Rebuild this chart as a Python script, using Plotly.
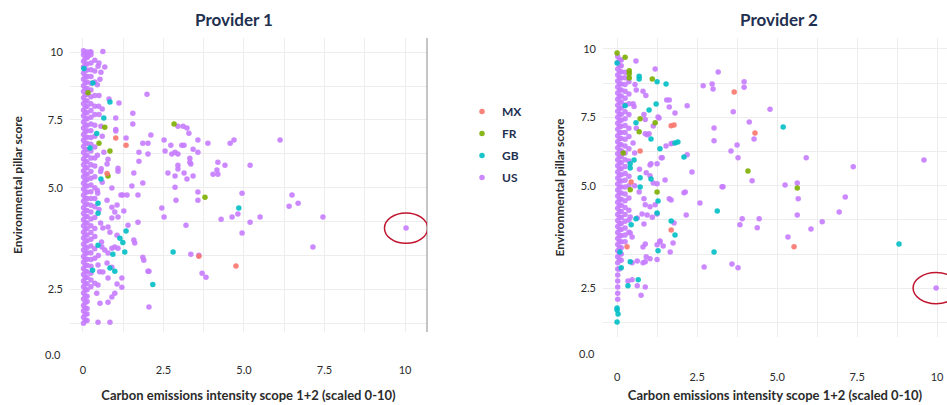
import plotly.graph_objects as go

# ---------------- DATA ----------------
countries = ["US", "GB", "FR", "MX"]          # drawing order (US underneath)
legend_rank = {"MX": 1, "FR": 2, "GB": 3, "US": 4}
colors = {"MX": "#F8766D", "FR": "#7CAE00", "GB": "#00BFC4", "US": "#C77CFF"}

x_tick_vals = [0, 1.25, 2.5, 3.75, 5, 6.25, 7.5, 8.75, 10]
x_tick_text = ["0", "", "2.5", "", "5.0", "", "7.5", "", "10"]
y_tick_vals = [0, 1.25, 2.5, 3.75, 5, 6.25, 7.5, 8.75, 10]
y_tick_text = ["", "2.5", "", "", "5.0", "", "7.5", "", "10"]
y_bottom_label = "0.0"

# ---- Provider 1 ----
p1_us_x = [0.22, 0.62, 0.16, 0.68, 0.56, 0.81, 1.12, 1.99, 1.55, 1.02, 1.55, 0.56, 1.02, 1.02, 2.11, 1.34, 1.86, 2.02, 2.52, 2.73,
           3.07, 3.14, 3.57, 3.88, 4.57, 4.69, 2.95, 3.11, 3.23, 3.29, 0.65, 1.74, 2.02, 2.55, 2.76, 2.86, 2.95, 3.42, 3.57, 0.78,
           1.74, 3.32, 3.32, 3.35, 4.19, 4.41, 0.75, 1.09, 1.09, 1.58, 1.86, 2.64, 2.86, 2.95, 2.95, 3.14, 3.23, 3.42, 4.04, 4.19,
           4.16, 1.52, 6.12, 5.19, 4.94, 6.49, 3.57, 1.18, 1.24, 1.37, 1.71, 0.90, 2.86, 3.57, 2.89, 0.75, 2.45, 2.52, 3.20, 4.29,
           4.63, 4.81, 5.19, 4.94, 5.50, 6.40, 6.68, 7.45, 7.14, 10.03, 3.35, 3.60, 3.70, 3.82, 2.05, 2.05, 1.86, 1.89, 1.71, 1.61,
           1.40, 1.27, 0.90, 1.06, 0.99, 0.90, 1.09, 0.62, 0.78, 0.84, 1.06, 0.99, 0.90, 1.09, 0.59, 0.68, 0.78, 1.58, 2.02, 0.47,
           0.75, 0.90, 0.62, 0.78, 1.06, 1.21, 1.21, 0.37, 0.47, 0.43, 0.99, 0.90, 0.78, 0.53, 0.47, 0.84, 0.50, 0.45, 0.50, 0.60,
           0.50, 0.60, 0.45, 0.55, 0.60, 0.45, 0.47, 0.52, 0.48, 0.58, 0.55, 0.50, 0.46, 0.57, 0.49, 0.53]
p1_us_y = [10.0, 10.02, 9.85, 9.45, 9.26, 8.27, 8.12, 8.45, 7.75, 7.57, 7.35, 7.27, 7.09, 7.15, 6.94, 6.83, 6.64, 6.64, 6.76, 6.57,
           6.57, 6.57, 6.76, 6.64, 6.64, 6.76, 7.27, 7.27, 7.20, 7.01, 6.31, 6.31, 6.24, 6.35, 6.24, 6.31, 6.24, 6.42, 6.31, 6.05,
           5.98, 6.09, 5.94, 5.87, 5.94, 5.83, 5.87, 5.72, 5.61, 5.54, 5.17, 5.54, 5.43, 5.69, 5.83, 5.54, 5.32, 5.43, 5.50, 5.50,
           5.65, 5.06, 6.76, 5.83, 4.80, 4.73, 4.84, 4.73, 4.73, 4.73, 4.73, 4.99, 5.02, 4.54, 4.54, 4.54, 4.25, 3.92, 3.62, 3.84,
           3.92, 4.03, 3.73, 3.33, 3.92, 4.32, 4.43, 3.92, 2.81, 3.51, 2.55, 2.51, 1.85, 1.70, 0.60, 1.92, 2.44, 2.33, 3.73, 2.96,
           3.62, 4.14, 4.28, 4.36, 4.10, 3.88, 3.92, 3.51, 3.55, 3.36, 3.25, 2.81, 2.77, 2.77, 2.81, 2.70, 2.59, 3.07, 1.92, 2.15,
           2.22, 2.07, 1.89, 1.67, 1.45, 1.67, 1.33, 1.48, 1.41, 1.11, 1.11, 0.97, 0.78, 0.74, 0.04, 0.04, 9.60, 8.80, 8.40, 7.90,
           7.70, 6.90, 6.20, 5.60, 5.20, 4.90, 9.48, 1.90, 2.50, 3.00, 3.70, 4.20, 4.80, 5.70, 8.00, 9.00]

# dense band near zero (US), read column by column
p1_band_x_a = 0.02
p1_band_y_a = [0.0, 0.22, 0.45, 0.66, 0.9, 1.12, 1.35, 1.56, 1.8, 2.02, 2.25, 2.46, 2.7, 2.92, 3.15, 3.36, 3.6, 3.82, 4.05,
               4.26, 4.5, 4.72, 4.95, 5.16, 5.4, 5.62, 5.85, 6.06, 6.3, 6.52, 6.75, 6.96, 7.2, 7.42, 7.65, 7.86, 8.1, 8.32,
               8.55, 8.76, 9.0, 9.22, 9.45, 9.66, 9.9, 10.05]
p1_band_x_e = 0.075
p1_band_y_e = [0.11, 0.33, 0.56, 0.77, 1.01, 1.23, 1.46, 1.67, 1.91, 2.13, 2.36, 2.57, 2.81, 3.03, 3.26, 3.47, 3.71, 3.93,
               4.16, 4.37, 4.61, 4.83, 5.06, 5.27, 5.51, 5.73, 5.96, 6.17, 6.41, 6.63, 6.86, 7.07, 7.31, 7.53, 7.76, 7.97,
               8.21, 8.43, 8.66, 8.87, 9.11, 9.33, 9.56, 9.77, 9.98]
p1_band_x_b = 0.13
p1_band_y_b = [0.1, 0.34, 0.55, 0.8, 1.0, 1.24, 1.46, 1.7, 1.9, 2.14, 2.36, 2.6, 2.8, 3.04, 3.26, 3.5, 3.7, 3.94, 4.16, 4.4,
               4.6, 4.84, 5.06, 5.3, 5.5, 5.74, 5.96, 6.2, 6.4, 6.64, 6.86, 7.1, 7.3, 7.54, 7.76, 8.0, 8.2, 8.44, 8.66, 8.9,
               9.1, 9.34, 9.56, 9.8, 10.0]
p1_band_x_c = 0.25
p1_band_y_c = [1.35, 1.6, 1.85, 2.1, 2.35, 2.6, 2.85, 3.1, 3.35, 3.6, 3.85, 4.1, 4.35, 4.6, 4.85, 5.1, 5.35, 5.6, 5.85, 6.1,
               6.35, 6.6, 6.85, 7.1, 7.35, 7.6, 7.85, 8.1, 8.35, 8.6, 8.85, 9.1, 9.35, 9.6, 9.9, 10.0]
p1_band_x_d = 0.37
p1_band_y_d = [2.4, 2.75, 3.2, 3.5, 3.9, 4.3, 4.6, 5.0, 5.4, 5.8, 6.1, 6.5, 6.9, 7.3, 7.7, 8.0, 8.4, 8.9, 9.3, 9.7]

p1_gb_x = [0.31, 0.84, 0.65, 0.43, 0.56, 0.47, 0.47, 1.15, 1.24, 1.30, 1.34, 0.47, 0.93, 0.84, 0.99, 0.30, 2.80, 2.17, 4.84, 0.03, 0.22]
p1_gb_y = [8.86, 8.16, 7.57, 7.00, 5.32, 4.43, 4.06, 3.14, 2.98, 2.63, 3.40, 2.88, 2.55, 2.04, 1.92, 1.96, 2.63, 1.43, 4.25, 9.40, 6.46]
p1_fr_x = [0.68, 0.50, 0.84, 0.78, 2.83, 3.79, 0.16]
p1_fr_y = [7.23, 6.64, 6.35, 5.43, 7.35, 4.65, 8.50]
p1_mx_x = [1.02, 1.34, 0.75, 3.60, 4.75]
p1_mx_y = [6.83, 6.57, 5.52, 2.47, 2.11]

# ---- Provider 2 ----
p2_us_x = [0.59, 1.19, 3.16, 2.69, 2.97, 3.00, 3.97, 3.97, 4.78, 2.19, 1.55, 1.63, 1.63, 1.81, 3.63, 4.13, 3.03, 4.28, 3.03, 3.75,
           3.56, 3.78, 4.22, 3.28, 2.34, 1.69, 1.53, 1.38, 2.19, 1.31, 0.84, 0.88, 0.88, 1.00, 0.50, 1.06, 1.25, 0.91, 1.03, 1.50,
           1.25, 1.13, 0.69, 0.84, 1.63, 2.09, 1.28, 1.13, 0.94, 1.72, 1.03, 1.41, 0.60, 0.81, 0.90, 0.50, 0.56, 0.53, 0.60, 0.55,
           0.70, 0.55, 0.88, 1.03, 1.19, 2.13, 3.31, 1.69, 2.59, 2.16, 0.41, 0.63, 0.78, 0.94, 0.84, 1.10, 1.25, 1.78, 0.41, 0.47,
           0.81, 0.88, 1.25, 1.34, 1.44, 1.66, 1.75, 1.34, 0.47, 0.63, 0.81, 0.88, 0.91, 1.03, 1.25, 0.34, 0.47, 0.63, 0.75, 0.88,
           2.72, 3.59, 3.78, 3.91, 3.84, 4.44, 4.38, 5.91, 7.38, 9.59, 5.25, 5.63, 5.66, 7.13, 6.94, 5.63, 6.41, 6.06, 5.34, 9.97]
p2_us_y = [9.56, 9.27, 9.16, 8.65, 8.72, 8.54, 8.80, 8.60, 7.80, 7.92, 8.13, 8.13, 7.88, 7.66, 7.70, 7.33, 7.11, 6.71, 6.64, 6.49,
           6.27, 6.02, 5.18, 4.96, 5.50, 6.53, 6.45, 6.02, 6.13, 7.48, 7.60, 7.42, 6.90, 6.90, 6.56, 5.80, 5.80, 5.47, 5.36, 5.21,
           5.07, 5.10, 4.77, 4.52, 4.52, 4.74, 7.51, 7.18, 6.86, 6.55, 5.76, 6.02, 8.50, 8.45, 8.30, 8.00, 8.70, 7.90, 7.10, 6.20,
           5.60, 5.00, 4.30, 4.23, 4.30, 4.77, 4.96, 4.48, 4.37, 3.93, 3.86, 3.82, 3.97, 3.93, 3.60, 3.85, 3.97, 3.64, 3.27, 3.13,
           2.76, 2.87, 2.84, 2.95, 2.80, 2.58, 2.91, 2.98, 2.18, 2.25, 2.18, 2.22, 2.40, 2.33, 2.30, 1.52, 1.56, 1.34, 1.00, 1.30,
           2.03, 2.14, 2.00, 3.79, 3.57, 3.79, 3.46, 6.02, 5.69, 5.94, 5.03, 5.10, 4.52, 4.59, 4.04, 3.93, 3.68, 3.42, 3.13, 1.26]

p2_band_x_a = 0.02
p2_band_y_a = [0.85, 1.07, 1.3, 1.52, 1.74, 1.96, 2.18, 2.4, 2.62, 2.85, 3.07, 3.29, 3.51, 3.73, 3.95, 4.18, 4.4, 4.62, 4.84,
               5.06, 5.28, 5.5, 5.73, 5.95, 6.17, 6.39, 6.61, 6.83, 7.06, 7.28, 7.5, 7.72, 7.94, 8.16, 8.39, 8.61, 8.83, 9.05,
               9.27, 9.5, 9.72]
p2_band_x_e = 0.075
p2_band_y_e = [1.96, 2.29, 2.51, 2.73, 2.96, 3.18, 3.4, 3.62, 3.84, 4.06, 4.29, 4.51, 4.73, 4.95, 5.17, 5.39, 5.62, 5.84,
               6.06, 6.28, 6.5, 6.72, 6.94, 7.17, 7.39, 7.61, 7.83, 8.05, 8.27, 8.5, 8.72, 8.94, 9.16, 9.38, 9.6]
p2_band_x_b = 0.13
p2_band_y_b = [2.28, 2.5, 2.73, 2.95, 3.17, 3.4, 3.62, 3.84, 4.06, 4.29, 4.51, 4.73, 4.95, 5.17, 5.4, 5.62, 5.84, 6.06, 6.28,
               6.5, 6.73, 6.95, 7.17, 7.39, 7.61, 7.84, 8.06, 8.28, 8.5, 8.72, 8.94, 9.17, 9.39, 9.6]
p2_band_x_c = 0.25
p2_band_y_c = [2.95, 3.2, 3.45, 3.7, 3.95, 4.2, 4.45, 4.7, 4.95, 5.2, 5.45, 5.7, 5.95, 6.2, 6.45, 6.7, 6.95, 7.2, 7.45, 7.7,
               7.95, 8.2, 8.45, 8.7, 8.95, 9.15]
p2_band_x_d = 0.37
p2_band_y_d = [3.3, 3.75, 4.1, 4.55, 5.0, 5.35, 5.9, 6.35, 6.8, 7.1, 7.6, 8.0, 8.35, 8.8]

p2_gb_x = [0.00, 0.69, 0.69, 1.25, 1.53, 1.22, 1.00, 0.59, 1.06, 1.90, 1.81, 1.34, 2.09, 0.53, 0.41, 0.41, 1.06, 0.72, 0.72, 5.19,
           1.28, 3.13, 1.25, 0.59, 1.69, 1.81, 0.44, 1.28, 0.09, 0.41, 3.03, 0.13, 0.66, 0.34, 0.00, 0.00, 0.03, 0.00, 8.81, 0.25]
p2_gb_y = [9.49, 9.00, 8.90, 8.80, 8.72, 7.99, 7.77, 7.30, 6.71, 6.60, 6.56, 6.35, 6.05, 5.94, 5.80, 5.65, 5.25, 5.29, 4.95, 7.15,
           4.44, 4.08, 4.00, 3.79, 3.71, 3.20, 3.57, 2.62, 2.58, 2.22, 2.58, 2.00, 1.56, 1.34, 0.53, 0.46, 0.31, 0.02, 2.87, 7.92]
p2_fr_x = [0.00, 0.25, 0.38, 0.38, 0.38, 1.10, 1.19, 0.72, 0.69, 0.19, 4.09, 0.41, 1.25, 5.63]
p2_fr_y = [9.85, 9.70, 9.20, 9.09, 8.94, 8.90, 7.30, 7.45, 6.97, 6.20, 5.54, 4.85, 4.77, 4.92]
p2_mx_x = [3.66, 4.31, 1.69, 1.78, 0.72, 0.44, 1.69, 0.31, 5.53]
p2_mx_y = [8.43, 6.93, 7.19, 7.22, 6.27, 5.14, 3.38, 2.77, 2.77]

# highlighted outliers (centre of red ellipses) in data units
p1_outlier = (10.03, 3.51)
p2_outlier = (9.97, 1.26)

# ---------------- FIGURE ----------------
FONT = "Lato"
TXT = "#2B2B2B"
NAVY = "#1F3050"
GRID = "#EDEDED"


def band(cols):
    xs, ys = [], []
    for x0, yl in cols:
        xs += [x0] * len(yl)
        ys += yl
    return xs, ys


p1_bx, p1_by = band([(p1_band_x_a, p1_band_y_a), (p1_band_x_e, p1_band_y_e), (p1_band_x_b, p1_band_y_b),
                     (p1_band_x_c, p1_band_y_c), (p1_band_x_d, p1_band_y_d)])
p2_bx, p2_by = band([(p2_band_x_a, p2_band_y_a), (p2_band_x_e, p2_band_y_e), (p2_band_x_b, p2_band_y_b),
                     (p2_band_x_c, p2_band_y_c), (p2_band_x_d, p2_band_y_d)])

panels = {
    1: {"US": (p1_bx + p1_us_x, p1_by + p1_us_y), "GB": (p1_gb_x, p1_gb_y),
        "FR": (p1_fr_x, p1_fr_y), "MX": (p1_mx_x, p1_mx_y)},
    2: {"US": (p2_bx + p2_us_x, p2_by + p2_us_y), "GB": (p2_gb_x, p2_gb_y),
        "FR": (p2_fr_x, p2_fr_y), "MX": (p2_mx_x, p2_mx_y)},
}

fig = go.Figure()
for p, ax in [(1, ""), (2, "2")]:
    for c in countries:
        xs, ys = panels[p][c]
        fig.add_trace(go.Scatter(
            x=xs, y=ys, mode="markers", name=c, legendgroup=c, legendrank=legend_rank[c],
            showlegend=(p == 1), xaxis="x" + ax, yaxis="y" + ax,
            marker=dict(color=colors[c], size=5.5, opacity=0.9, line=dict(width=0)),
            hoverinfo="x+y+name"))

axis_font = dict(family=FONT, size=11, color=TXT)
xtitle_font = dict(family=FONT, size=13, color=TXT, weight="bold")
ytitle_font = dict(family=FONT, size=12, color=TXT, weight="bold")


def xaxis(domain, rng, anchor, standoff_lbl, standoff_title):
    return dict(domain=domain, range=rng, anchor=anchor, tickvals=x_tick_vals, ticktext=x_tick_text,
                showgrid=True, gridcolor=GRID, gridwidth=1, zeroline=False, showline=False,
                ticks="", tickfont=axis_font, ticklabelstandoff=standoff_lbl,
                title=dict(text="Carbon emissions intensity scope 1+2 (scaled 0-10)",
                           font=xtitle_font, standoff=standoff_title),
                automargin=True, fixedrange=True)


def yaxis(domain, rng, anchor, standoff_title):
    return dict(domain=domain, range=rng, tickvals=y_tick_vals, ticktext=y_tick_text,
                showgrid=True, gridcolor=GRID, gridwidth=1, zeroline=False, showline=False,
                ticks="", tickfont=axis_font, ticklabelstandoff=6, anchor=anchor,
                title=dict(text="Environmental pillar score", font=ytitle_font, standoff=standoff_title),
                automargin=True, fixedrange=True)


W, H = 947, 405
fig.update_layout(
    width=W, height=H, margin=dict(l=0, r=0, t=0, b=0, autoexpand=False),
    paper_bgcolor="white", plot_bgcolor="white",
    font=dict(family=FONT, color=TXT),
    xaxis=xaxis([70 / W, 427 / W], [-0.40, 10.68], "y", 30, 15),
    yaxis=yaxis([73 / H, 367 / H], [-0.32, 10.52], "x", 22),
    xaxis2=xaxis([603 / W, 1.0], [-0.44, 10.31], "y2", 32, 8),
    yaxis2=yaxis([68 / H, 367 / H], [-0.53, 10.40], "x2", 13),
    legend=dict(x=462 / W, y=1 - 97 / H, xanchor="left", yanchor="top",
                traceorder="grouped", tracegroupgap=3,
                font=dict(family=FONT, size=12, color=NAVY, weight="bold"),
                bgcolor="rgba(0,0,0,0)"),
    showlegend=True,
)

title_font = dict(family=FONT, size=17, color=NAVY, weight="bold")
annotations = [
    dict(text="Provider 1", x=234 / W, y=1 - 19 / H, xref="paper", yref="paper", showarrow=False,
         font=title_font, xanchor="center", yanchor="middle"),
    dict(text="Provider 2", x=779 / W, y=1 - 19 / H, xref="paper", yref="paper", showarrow=False,
         font=title_font, xanchor="center", yanchor="middle"),
    # bottom y tick label, which sits below the plotting area
    dict(text=y_bottom_label, x=63 / W, y=1 - 354 / H, xref="paper", yref="paper", showarrow=False,
         font=axis_font, xanchor="right", yanchor="middle"),
    dict(text=y_bottom_label, x=597 / W, y=1 - 353 / H, xref="paper", yref="paper", showarrow=False,
         font=axis_font, xanchor="right", yanchor="middle"),
]
fig.update_layout(annotations=annotations)

shapes = [
    # separator line at the right edge of panel 1
    dict(type="line", xref="x domain", yref="y domain", x0=1, x1=1, y0=0, y1=1,
         line=dict(color="#8A8A8A", width=1)),
    dict(type="circle", xref="x", yref="y",
         x0=p1_outlier[0] - 0.67, x1=p1_outlier[0] + 0.67,
         y0=p1_outlier[1] - 0.56, y1=p1_outlier[1] + 0.56,
         line=dict(color="#C0152F", width=1.5)),
    dict(type="circle", xref="x2", yref="y2",
         x0=p2_outlier[0] - 0.72, x1=p2_outlier[0] + 0.72,
         y0=p2_outlier[1] - 0.57, y1=p2_outlier[1] + 0.57,
         line=dict(color="#C0152F", width=1.5)),
]
fig.update_layout(shapes=shapes)

fig.write_html("out.html")
